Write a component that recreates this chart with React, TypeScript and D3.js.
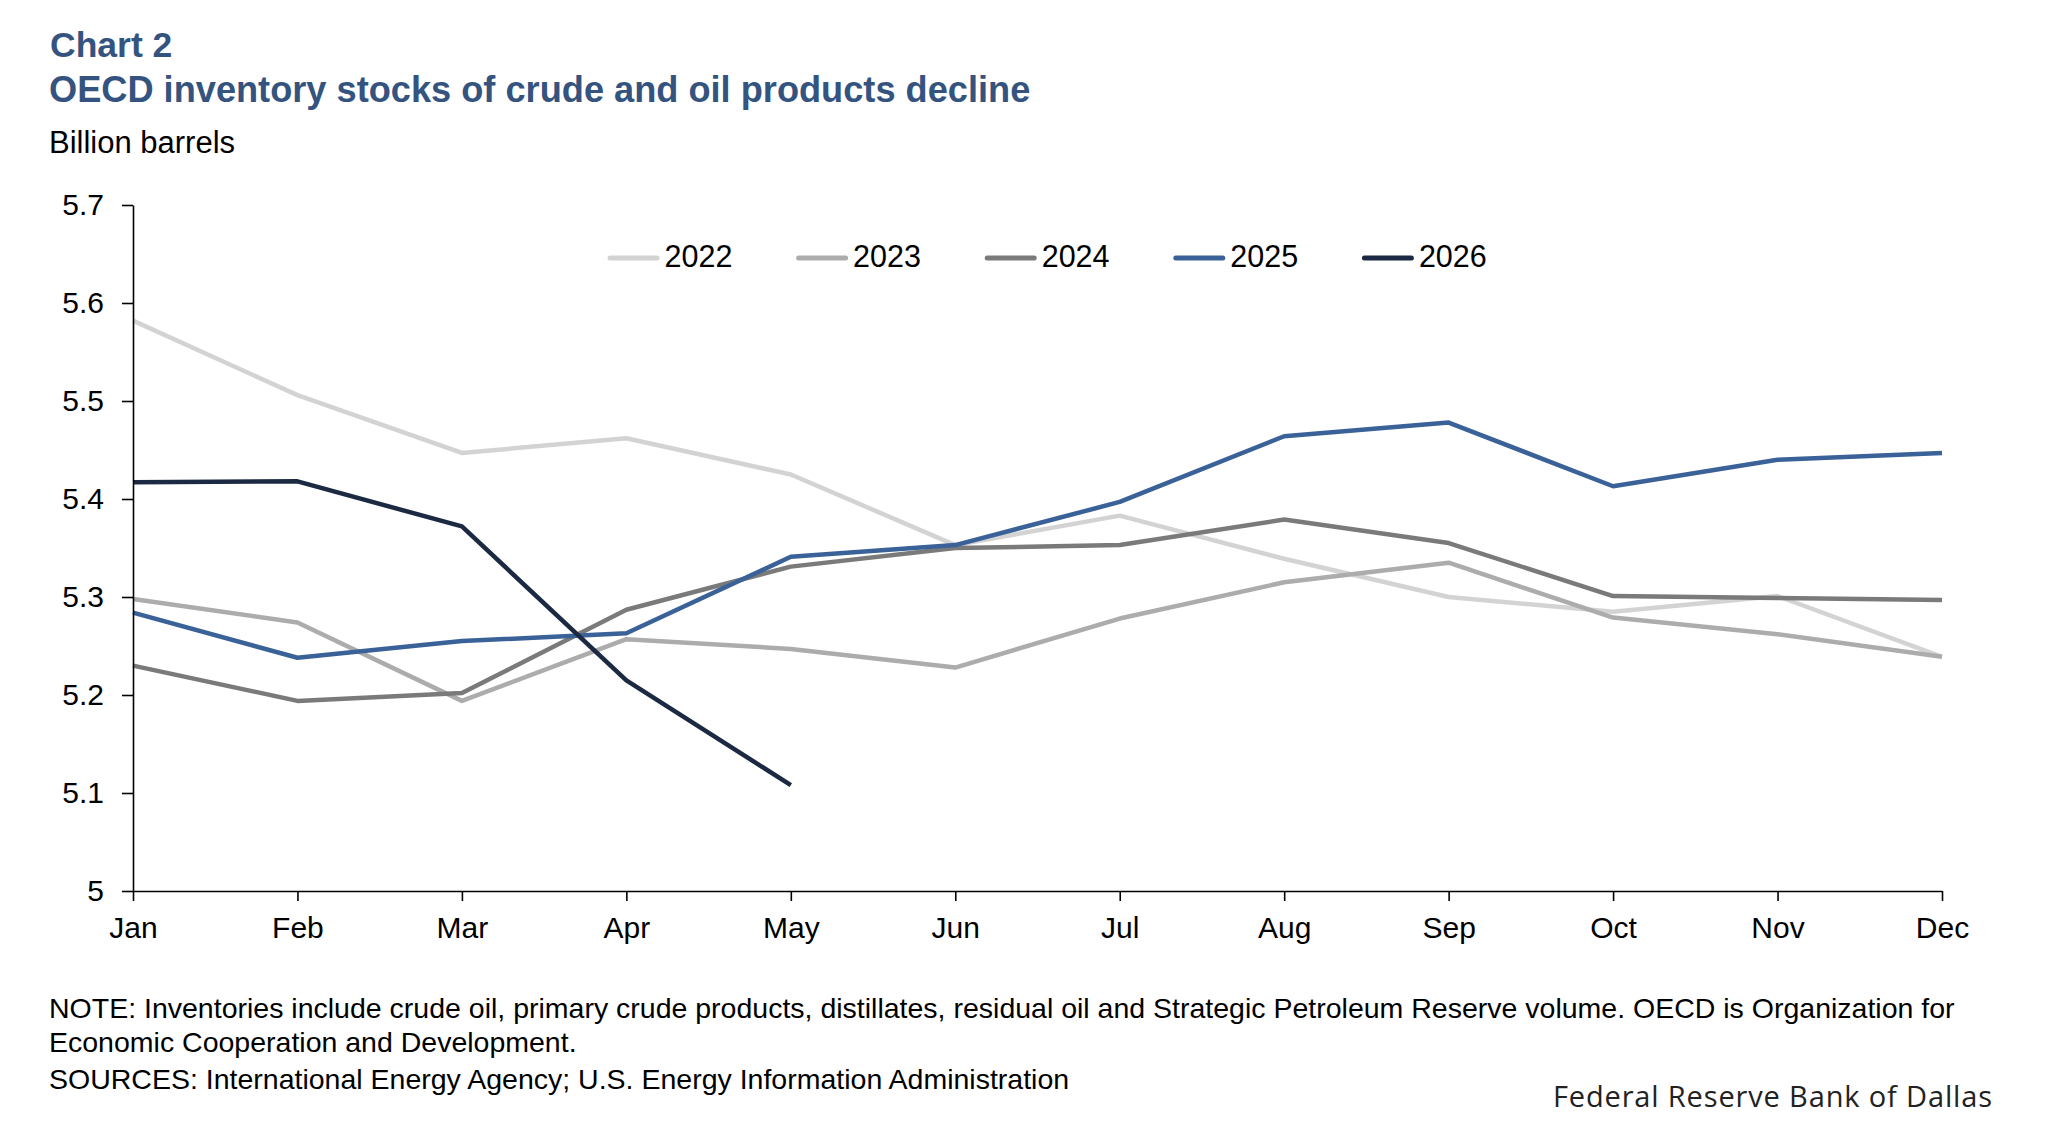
import React, { useEffect, useRef } from 'react';
import * as d3 from 'd3';

// Month labels on the x axis
const months = ['Jan', 'Feb', 'Mar', 'Apr', 'May', 'Jun', 'Jul', 'Aug', 'Sep', 'Oct', 'Nov', 'Dec'];

// Billion barrels
const stocks2022 = [5.582, 5.506, 5.447, 5.462, 5.425, 5.353, 5.383, 5.339, 5.300, 5.285, 5.301, 5.239];
const stocks2023 = [5.298, 5.274, 5.194, 5.257, 5.247, 5.228, 5.278, 5.315, 5.335, 5.279, 5.262, 5.239];
const stocks2024 = [5.230, 5.194, 5.202, 5.287, 5.331, 5.350, 5.353, 5.379, 5.355, 5.301, 5.299, 5.297];
const stocks2025 = [5.284, 5.238, 5.255, 5.263, 5.341, 5.353, 5.397, 5.464, 5.478, 5.413, 5.440, 5.447];
const stocks2026 = [5.417, 5.418, 5.372, 5.215, 5.108];

const yTicks = [5, 5.1, 5.2, 5.3, 5.4, 5.5, 5.6, 5.7];

const series = [
  { name: '2022', values: stocks2022, color: '#d3d3d3' },
  { name: '2023', values: stocks2023, color: '#acacac' },
  { name: '2024', values: stocks2024, color: '#7a7a7a' },
  { name: '2025', values: stocks2025, color: '#3a6299' },
  { name: '2026', values: stocks2026, color: '#1b2a42' },
];

const W = 2050;
const H = 1148;
const margin = { left: 133, right: 108, top: 205, bottom: 257 };
const FONT = "'Liberation Sans', Arial, sans-serif";
const TITLE_BLUE = '#34547f';

export default function App() {
  const xAxisRef = useRef<SVGGElement>(null);
  const yAxisRef = useRef<SVGGElement>(null);

  const x = d3.scalePoint<string>()
    .domain(months)
    .range([margin.left, W - margin.right]);

  const y = d3.scaleLinear()
    .domain([5, 5.7])
    .range([H - margin.bottom, margin.top]);

  const line = d3.line<number>()
    .x((_, i) => x(months[i]) as number)
    .y(d => y(d));

  useEffect(() => {
    document.body.style.margin = '0';

    const xg = d3.select(xAxisRef.current!);
    xg.selectAll('*').remove();
    xg.call(d3.axisBottom(x).tickSize(10).tickSizeOuter(0).tickPadding(16));

    const yg = d3.select(yAxisRef.current!);
    yg.selectAll('*').remove();
    yg.call(
      d3.axisLeft(y)
        .tickValues(yTicks)
        .tickSize(11)
        .tickSizeOuter(0)
        .tickPadding(18)
        .tickFormat(d => String(+(+d).toFixed(1)))
    );

    [xg, yg].forEach(g => {
      g.select('.domain').attr('stroke', '#000').attr('stroke-width', 1.6);
      g.selectAll('.tick line').attr('stroke', '#000').attr('stroke-width', 1.6);
      g.selectAll('.tick text')
        .attr('fill', '#000')
        .style('font-family', FONT)
        .style('font-size', '30px');
    });
  }, []);

  return (
    <svg width={W} height={H} style={{ display: 'block', background: '#fff' }}>
      <text x={50} y={57} fill={TITLE_BLUE} fontFamily={FONT} fontWeight="bold" fontSize={35.5}>
        Chart 2
      </text>
      <text x={49} y={102} fill={TITLE_BLUE} fontFamily={FONT} fontWeight="bold" fontSize={36.2}>
        OECD inventory stocks of crude and oil products decline
      </text>
      <text x={49} y={153} fill="#000" fontFamily={FONT} fontSize={31}>
        Billion barrels
      </text>

      {/* legend */}
      {series.map((s, i) => {
        const lx = 610 + i * 188.6;
        return (
          <g key={s.name}>
            <line x1={lx} x2={lx + 47} y1={258} y2={258} stroke={s.color} strokeWidth={5} strokeLinecap="round" />
            <text x={lx + 54.5} y={267} fill="#000" fontFamily={FONT} fontSize={30.5}>
              {s.name}
            </text>
          </g>
        );
      })}

      {series.map(s => (
        <path key={s.name} d={line(s.values) ?? ''} fill="none" stroke={s.color} strokeWidth={4.5} strokeLinejoin="round" />
      ))}

      <g ref={yAxisRef} transform={`translate(${margin.left},0)`} />
      <g ref={xAxisRef} transform={`translate(0,${H - margin.bottom})`} />

      <text fill="#000" fontFamily={FONT} fontSize={28.5}>
        <tspan x={49} y={1018}>
          NOTE: Inventories include crude oil, primary crude products, distillates, residual oil and Strategic Petroleum Reserve volume. OECD is Organization for
        </tspan>
        <tspan x={49} y={1052}>Economic Cooperation and Development.</tspan>
        <tspan x={49} y={1089}>SOURCES: International Energy Agency; U.S. Energy Information Administration</tspan>
      </text>
      <text
        x={1992}
        y={1107}
        textAnchor="end"
        fill="#222"
        fontFamily="'Open Sans', sans-serif"
        fontSize={29}
        textLength={439}
        lengthAdjust="spacing"
      >
        Federal Reserve Bank of Dallas
      </text>
    </svg>
  );
}
